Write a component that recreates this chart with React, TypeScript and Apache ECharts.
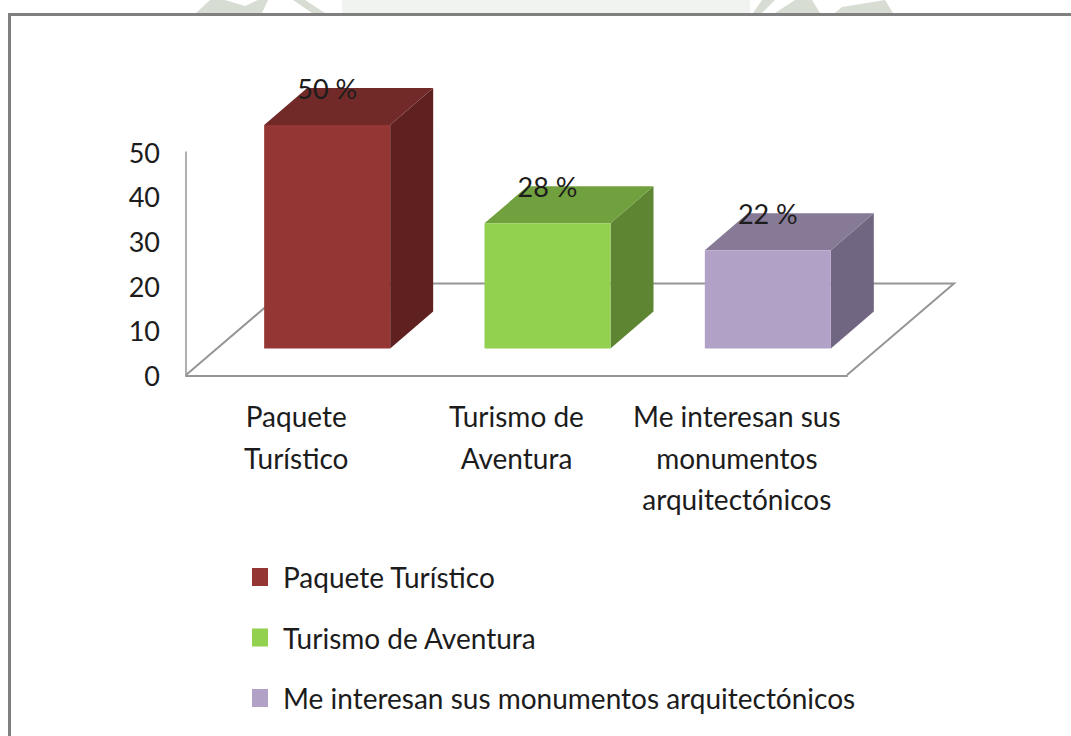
import React, { useEffect, useRef } from "react";
import * as echarts from "echarts";

const categories = ["Paquete\nTurístico", "Turismo de\nAventura", "Me interesan sus\nmonumentos\narquitectónicos"];
const seriesNames = ["Paquete Turístico", "Turismo de Aventura", "Me interesan sus monumentos arquitectónicos"];
const values = [50, 28, 22];
const labels = ["50 %", "28 %", "22 %"];
const yTicks = [0, 10, 20, 30, 40, 50];
const frontColors = ["#933634", "#92D050", "#B2A1C7"];
const topColors = ["#722A28", "#71A13E", "#867A97"];
const sideColors = ["#5F2120", "#5E8632", "#716681"];

const FONT = "Lato, Carlito, Calibri, sans-serif";
const TEXT = "#1c1c1c";
const LINE = "#969696";
const FRAME = "#808080";

const GRID = { left: 186, top: 152, width: 661, height: 223.5 };
const DX = 43;
const DY = -37;
const BAR_W = 126;
const SHIFT_X = 31;
const SHIFT_Y = -27;

function renderBar(i: number) {
  return (_params: any, api: any) => {
    const cat = api.value(0);
    const base = api.coord([cat, 0]);
    const top = api.coord([cat, api.value(1)]);
    const x0 = base[0] + SHIFT_X - BAR_W / 2;
    const x1 = x0 + BAR_W;
    const yb = base[1] + SHIFT_Y;
    const yt = top[1] + SHIFT_Y;
    return {
      type: "group",
      children: [
        {
          type: "polygon",
          shape: { points: [[x1, yt], [x1 + DX, yt + DY], [x1 + DX, yb + DY], [x1, yb]] },
          style: { fill: sideColors[i] },
        },
        {
          type: "polygon",
          shape: { points: [[x0, yt], [x0 + DX, yt + DY], [x1 + DX, yt + DY], [x1, yt]] },
          style: { fill: topColors[i] },
        },
        { type: "rect", shape: { x: x0, y: yt, width: BAR_W, height: yb - yt }, style: { fill: frontColors[i] } },
        {
          type: "text",
          style: {
            x: x0 + 63,
            y: yt + DY,
            text: labels[i],
            fill: TEXT,
            font: `27px ${FONT}`,
            align: "center",
            verticalAlign: "middle",
          },
        },
      ],
    };
  };
}

const watermarkDark = [
  [[196, 13], [210, 0], [225, 0], [245, 6], [258, 0], [268, 0], [262, 13]],
  [[293, 0], [305, 0], [325, 13], [312, 13]],
  [[753, 13], [762, 0], [775, 0], [762, 13]],
  [[775, 13], [795, 0], [812, 0], [820, 13]],
  [[835, 13], [842, 7], [885, 0], [893, 13]],
];

export default function App() {
  const ref = useRef<HTMLDivElement>(null);
  useEffect(() => {
    document.body.style.margin = "0";
    const chart = echarts.init(ref.current!, undefined, { renderer: "svg" });
    chart.setOption({
      animation: false,
      backgroundColor: "#ffffff",
      grid: GRID,
      graphic: [
        {
          type: "rect",
          z: 0,
          silent: true,
          shape: { x: 342, y: 0, width: 408, height: 13 },
          style: { fill: "#f1f3f0" },
        },
        ...watermarkDark.map((points) => ({
          type: "polygon",
          z: 0,
          silent: true,
          shape: { points },
          style: { fill: "#d8ddd4" },
        })),
        {
          type: "polyline",
          z: 0,
          silent: true,
          shape: { points: [[186, 375], [293, 283.5], [954, 283.5], [847, 375]] },
          style: { stroke: LINE, lineWidth: 2, fill: "none" },
        },
        {
          type: "polyline",
          z: 0,
          silent: true,
          shape: { points: [[9.5, 736], [9.5, 14.5], [1071, 14.5]] },
          style: { stroke: FRAME, lineWidth: 3, fill: "none" },
        },
      ],
      legend: {
        orient: "vertical",
        left: 247,
        top: 557,
        icon: "rect",
        itemWidth: 16,
        itemHeight: 18,
        itemGap: 30.5,
        data: seriesNames,
        selectedMode: false,
        textStyle: { fontFamily: FONT, fontSize: 28, color: TEXT, padding: [0, 0, 0, 10], lineHeight: 30 },
      },
      xAxis: {
        type: "category",
        data: categories,
        axisLine: { show: true, lineStyle: { color: LINE, width: 2 } },
        axisTick: { show: false },
        axisLabel: { fontFamily: FONT, fontSize: 28, color: TEXT, lineHeight: 41.5, margin: 20, interval: 0 },
      },
      yAxis: {
        type: "value",
        min: 0,
        max: 50,
        interval: yTicks[1] - yTicks[0],
        axisLine: { show: true, lineStyle: { color: LINE, width: 1.5 } },
        axisTick: { show: false },
        splitLine: { show: false },
        axisLabel: { fontFamily: FONT, fontSize: 27, color: TEXT, margin: 26 },
      },
      series: seriesNames.map((name, i) => ({
        name,
        type: "custom",
        coordinateSystem: "cartesian2d",
        clip: false,
        itemStyle: { color: frontColors[i] },
        encode: { x: 0, y: 1 },
        data: [[i, values[i]]],
        renderItem: renderBar(i),
      })),
    });
    return () => chart.dispose();
  }, []);
  return <div ref={ref} style={{ width: 1071, height: 736 }} />;
}
